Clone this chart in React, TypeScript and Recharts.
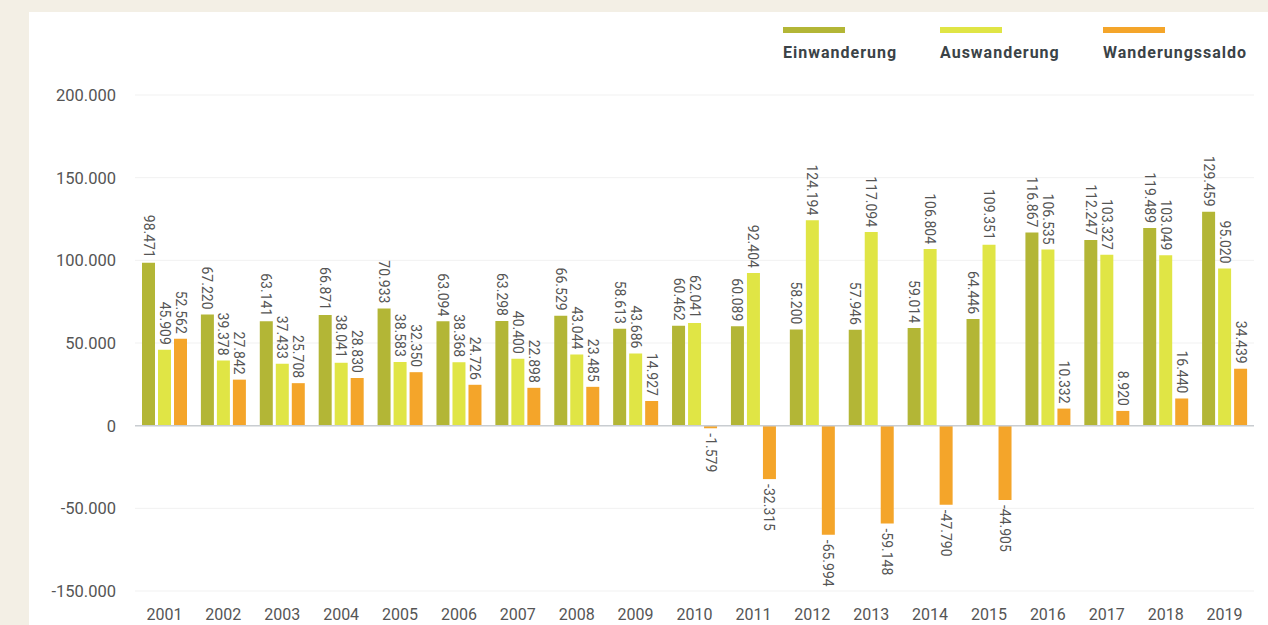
import React from 'react';
import {
  BarChart,
  Bar,
  XAxis,
  YAxis,
  CartesianGrid,
  ReferenceLine,
  LabelList
} from 'recharts';

const years = [
  '2001', '2002', '2003', '2004', '2005', '2006', '2007', '2008', '2009', '2010',
  '2011', '2012', '2013', '2014', '2015', '2016', '2017', '2018', '2019',
];

const einwanderung = [
  98471, 67220, 63141, 66871, 70933, 63094, 63298, 66529, 58613, 60462,
  60089, 58200, 57946, 59014, 64446, 116867, 112247, 119489, 129459,
];

const auswanderung = [
  45909, 39378, 37433, 38041, 38583, 38368, 40400, 43044, 43686, 62041,
  92404, 124194, 117094, 106804, 109351, 106535, 103327, 103049, 95020,
];

const saldo = [
  52562, 27842, 25708, 28830, 32350, 24726, 22898, 23485, 14927, -1579,
  -32315, -65994, -59148, -47790, -44905, 10332, 8920, 16440, 34439,
];

// the original axis labels its lowest line "-150.000"
const yTickValues = [-100000, -50000, 0, 50000, 100000, 150000, 200000];
const yTickLabels = ['-150.000', '-50.000', '0', '50.000', '100.000', '150.000', '200.000'];

const seriesNames = ['Einwanderung', 'Auswanderung', 'Wanderungssaldo'];
const seriesKeys = ['ein', 'aus', 'saldo'];
const seriesColors = ['#b3b636', '#e0e545', '#f4a52a'];

const data = years.map((year, i) => ({
  year,
  ein: einwanderung[i],
  aus: auswanderung[i],
  saldo: saldo[i],
}));

const fmt = (v: number) => {
  const s = Math.abs(v).toString().replace(/\B(?=(\d{3})+(?!\d))/g, '.');
  return (v < 0 ? '-' : '') + s;
};

const ValueLabel = (props: any) => {
  const { x, y, width, height, value } = props;
  const cx = Number(x) + Number(width) / 2;
  const top = Math.min(Number(y), Number(y) + Number(height));
  const bottom = Math.max(Number(y), Number(y) + Number(height));
  const neg = Number(value) < 0;
  const ay = neg ? bottom + 5 : top - 5;
  return (
    <text
      x={cx}
      y={ay}
      transform={`rotate(90 ${cx} ${ay})`}
      textAnchor={neg ? 'start' : 'end'}
      dominantBaseline="central"
      fontSize={14}
      fill="#555"
      fontFamily="Roboto"
    >
      {fmt(Number(value))}
    </text>
  );
};

const legendLeft = [754, 911, 1074];

const App: React.FC = () => {
  return (
    <div
      style={{
        position: 'absolute',
        left: 0,
        top: 0,
        width: 1268,
        height: 625,
        background: '#f3efe5',
        overflow: 'hidden',
        fontFamily: 'Roboto, sans-serif',
      }}
    >
      <div
        style={{
          position: 'absolute',
          left: 29,
          top: 12,
          width: 1239,
          height: 613,
          background: '#fff',
        }}
      >
        {seriesNames.map((name, i) => (
          <div key={name} style={{ position: 'absolute', left: legendLeft[i], top: 15 }}>
            <div style={{ width: 62, height: 6, background: seriesColors[i] }} />
            <div
              style={{
                marginTop: 10,
                fontSize: 16,
                fontWeight: 700,
                letterSpacing: 1,
                color: '#3b4347',
                whiteSpace: 'nowrap',
              }}
            >
              {name}
            </div>
          </div>
        ))}
        <BarChart
          width={1239}
          height={613}
          data={data}
          margin={{ top: 83, right: 14, left: 26, bottom: 4 }}
          barSize={13}
          barGap={3}
        >
          <CartesianGrid vertical={false} stroke="#f1f1f1" />
          <XAxis
            dataKey="year"
            axisLine={false}
            tickLine={false}
            height={30}
            tickMargin={12}
            interval={0}
            tick={{ fontSize: 16, fill: '#555', fontFamily: 'Roboto' }}
          />
          <YAxis
            domain={[-100000, 200000]}
            ticks={yTickValues}
            tickFormatter={(v: number) => yTickLabels[yTickValues.indexOf(v)]}
            axisLine={false}
            tickLine={false}
            width={80}
            tickMargin={13}
            tick={{ fontSize: 16.5, fill: '#555', fontFamily: 'Roboto' }}
          />
          <ReferenceLine y={0} stroke="#c9cdd1" strokeWidth={1.5} />
          {seriesKeys.map((key, i) => (
            <Bar key={key} dataKey={key} fill={seriesColors[i]} isAnimationActive={false}>
              <LabelList dataKey={key} content={ValueLabel} />
            </Bar>
          ))}
        </BarChart>
      </div>
    </div>
  );
};

export default App;
